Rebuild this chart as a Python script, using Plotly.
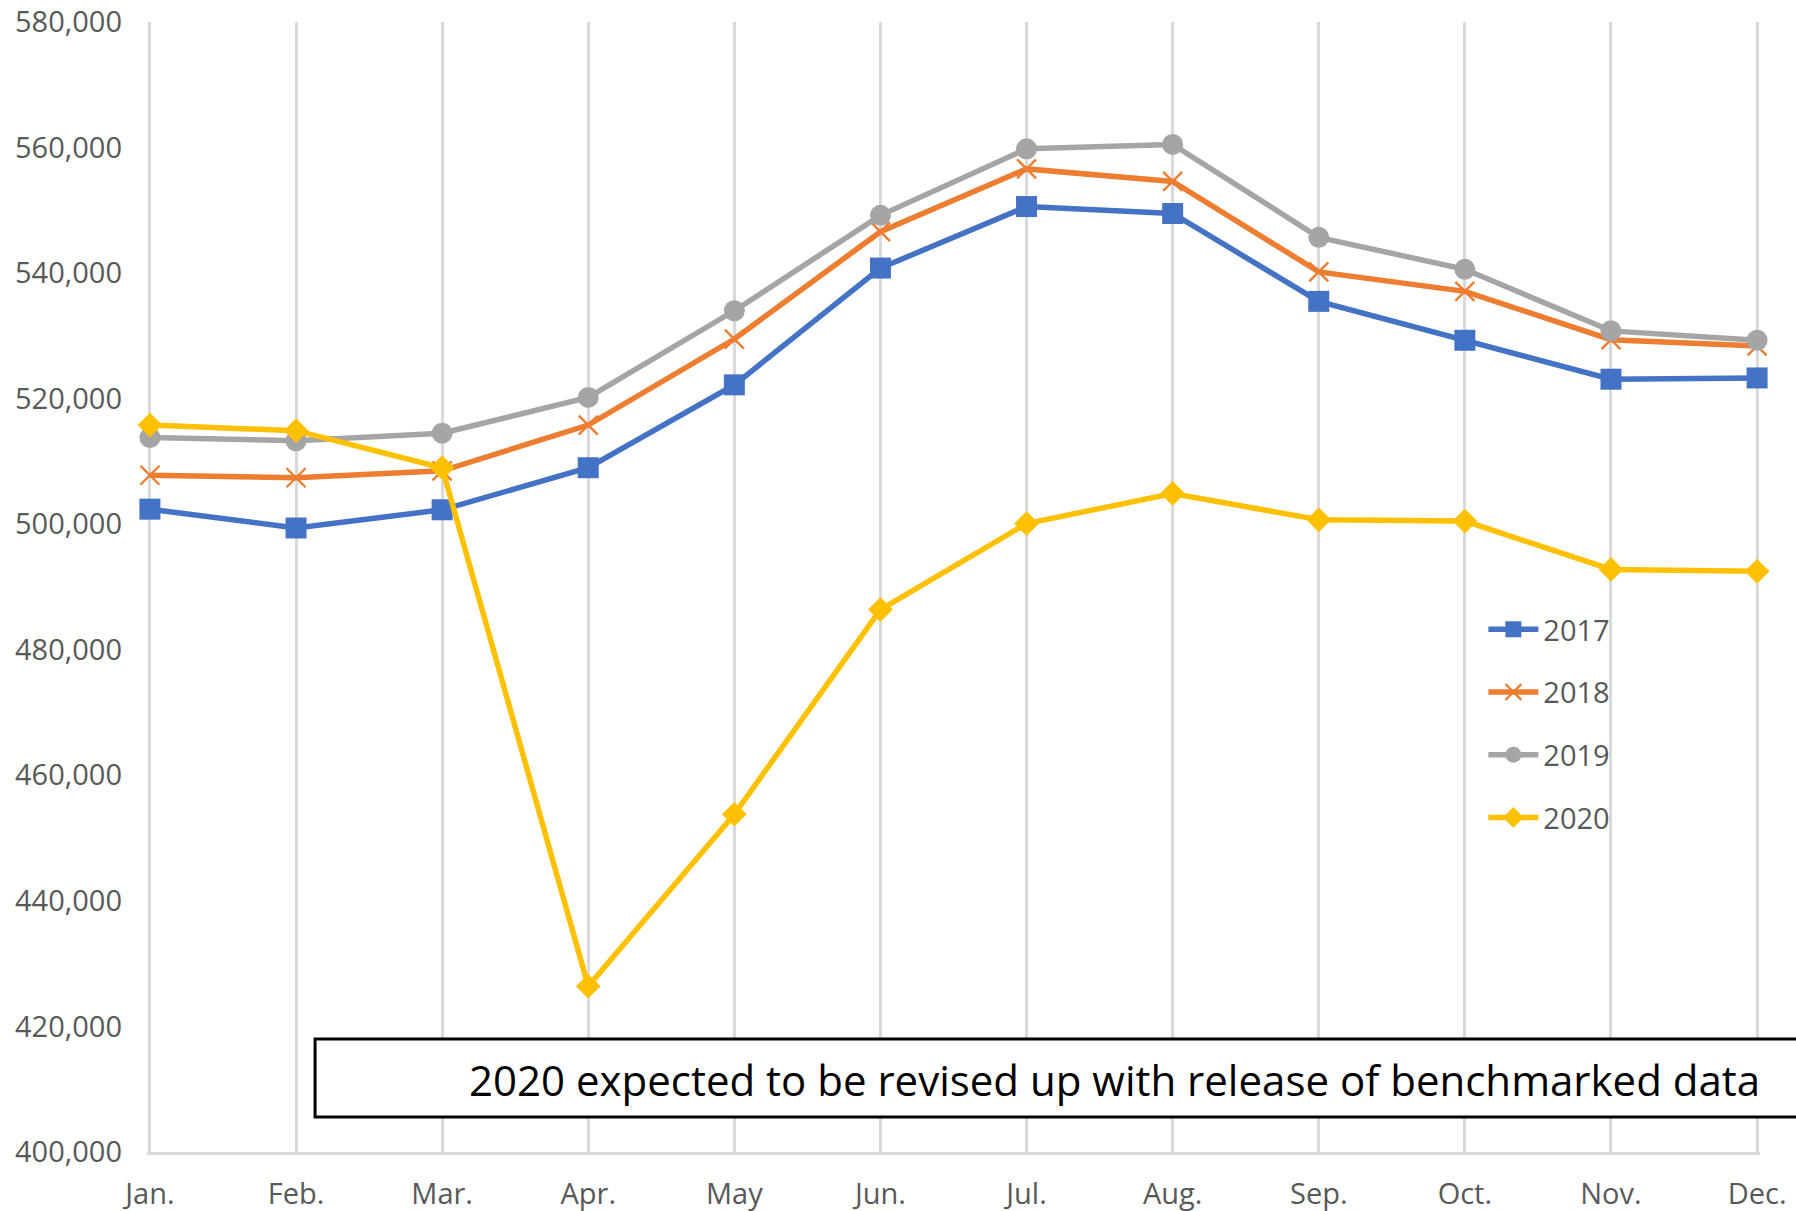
import plotly.graph_objects as go

months = ["Jan.", "Feb.", "Mar.", "Apr.", "May", "Jun.", "Jul.", "Aug.", "Sep.", "Oct.", "Nov.", "Dec."]

y2017 = [502400, 499400, 502300, 509000, 522200, 540800, 550600, 549500, 535500, 529300, 523100, 523300]
y2018 = [507800, 507400, 508500, 515800, 529500, 546600, 556600, 554600, 540200, 537100, 529400, 528400]
y2019 = [513800, 513300, 514500, 520200, 534000, 549200, 559800, 560500, 545700, 540600, 530800, 529300]
y2020 = [515800, 514900, 509000, 426400, 453800, 486400, 500100, 504900, 500700, 500500, 492800, 492500]

y_ticks = list(range(400000, 580001, 20000))

note = "2020 expected to be revised up with release of benchmarked data"

series = [
    ("2017", y2017, "#4472C4", dict(symbol="square", size=21)),
    ("2018", y2018, "#ED7D31", dict(symbol="x-thin-open", size=19, line=dict(width=2.4, color="#ED7D31"))),
    ("2019", y2019, "#A5A5A5", dict(symbol="circle", size=21)),
    ("2020", y2020, "#FFC000", dict(symbol="diamond", size=19)),
]

fig = go.Figure()
for name, vals, color, mk in series:
    marker = dict(color=color, **mk)
    fig.add_trace(go.Scatter(
        x=months, y=vals, name=name, mode="lines+markers",
        line=dict(color=color, width=5.5),
        marker=marker, cliponaxis=False, legendgroup=name,
    ))

font_family = "Open Sans, Segoe UI, sans-serif"

fig.update_layout(
    width=1796, height=1211,
    margin=dict(l=147, r=36, t=22, b=59),
    paper_bgcolor="white", plot_bgcolor="white",
    font=dict(family=font_family, size=29, color="#595959"),
    showlegend=True,
    legend=dict(
        x=0.8285, xanchor="left", y=0.485, yanchor="top",
        bgcolor="rgba(0,0,0,0)", font=dict(size=29, color="#595959"),
        traceorder="grouped", tracegroupgap=22, itemwidth=50,
    ),
    xaxis=dict(
        type="category", range=[-0.02, 11.02],
        showgrid=True, gridcolor="#D9D9D9", gridwidth=2.5,
        showline=True, linecolor="#D9D9D9", linewidth=2.5,
        ticks="", ticklabelstandoff=14, automargin=False,
        tickfont=dict(size=29, color="#595959"),
        zeroline=False,
    ),
    yaxis=dict(
        range=[400000, 580000], tickvals=y_ticks, tickformat=",",
        showgrid=False, zeroline=False, showline=False,
        ticks="", ticklabelstandoff=24, automargin=False,
        tickfont=dict(size=29, color="#595959"),
    ),
    shapes=[dict(
        type="rect", xref="paper", yref="paper",
        x0=0.1042, x1=1.04, y0=0.031, y1=0.1,
        line=dict(color="black", width=3), fillcolor="white", layer="above",
    )],
    annotations=[dict(
        text=note, xref="paper", yref="paper",
        x=0.1984, y=0.0646, xanchor="left", yanchor="middle",
        showarrow=False, font=dict(family=font_family, size=42, color="black"),
    )],
)

fig.write_html("out.html")
